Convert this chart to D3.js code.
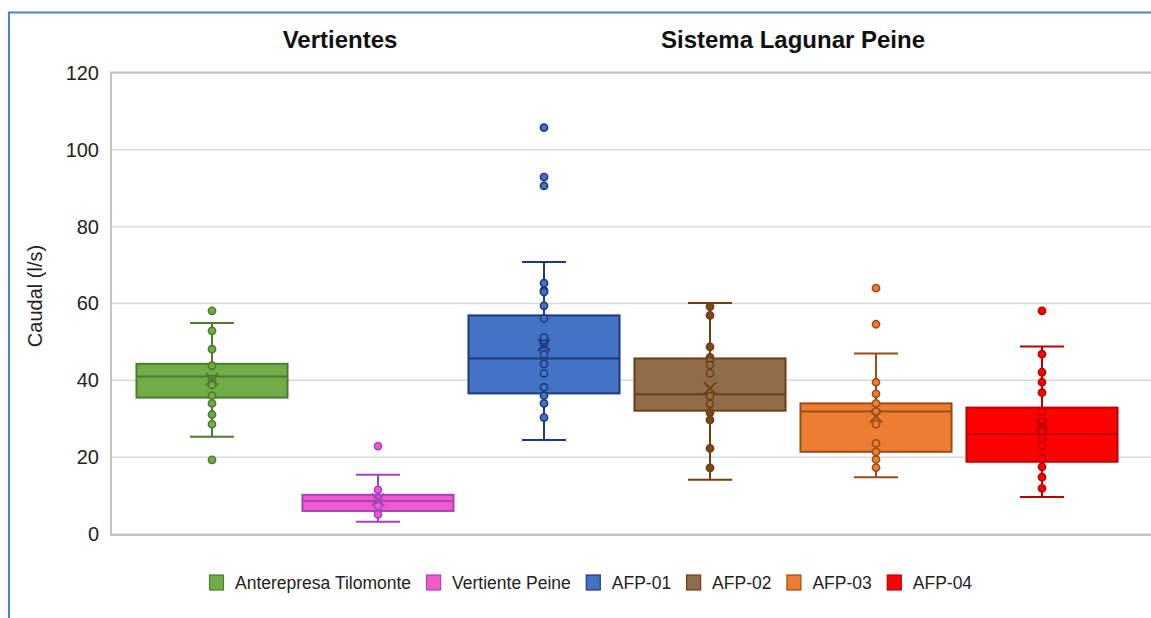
<!DOCTYPE html>
<html><head><meta charset="utf-8">
<script src="https://cdn.jsdelivr.net/npm/d3@7"></script>
<style>
html,body{margin:0;padding:0;background:#fff;}
svg{display:block;font-family:"Liberation Sans",Arial,sans-serif;}
</style></head>
<body><svg id="c" width="1151" height="618"></svg>
<script>
// ---- data ----
const categories = ["Anterepresa Tilomonte","Vertiente Peine","AFP-01","AFP-02","AFP-03","AFP-04"];
const groups = ["Vertientes","Sistema Lagunar Peine"];
const q1Values     = [35.5, 6.0, 36.6, 32.1, 21.4, 18.8];
const medianValues = [41.0, 8.6, 45.7, 36.4, 31.9, 26.0];
const q3Values     = [44.3, 10.2, 56.9, 45.7, 34.0, 32.9];
const whiskerLow   = [25.3, 3.2, 24.5, 14.1, 14.8, 9.6];
const whiskerHigh  = [54.9, 15.4, 70.8, 60.1, 47.0, 48.8];
const meanValues   = [40.3, 9.0, 49.2, 37.9, 30.6, 28.4];
const pointsTilomonte = [58.1, 52.9, 48.1, 43.8, 40.3, 38.8, 36.0, 34.0, 31.1, 28.6, 19.3];
const pointsPeine     = [22.9, 11.5, 9.3, 7.3, 5.1];
const pointsAFP01     = [105.8, 92.9, 90.6, 65.3, 63.4, 63.0, 59.4, 56.1, 51.2, 49.5, 46.8, 44.3, 41.8, 38.2, 36.0, 34.0, 30.3];
const pointsAFP02     = [59.2, 56.9, 48.7, 46.0, 45.1, 44.0, 41.8, 35.9, 33.9, 31.6, 29.7, 22.3, 17.2];
const pointsAFP03     = [64.0, 54.6, 39.5, 36.5, 34.0, 31.9, 28.6, 23.6, 21.4, 19.4, 17.3];
const pointsAFP04     = [58.1, 46.8, 42.1, 39.5, 36.8, 31.9, 29.3, 28.0, 26.6, 24.9, 22.9, 19.7, 17.5, 14.8, 11.9];
const yTicks = [0, 20, 40, 60, 80, 100, 120];
const fillColors   = ["#70ad47","#f359cc","#4472c4","#8f6d4a","#ed7d31","#ff0000"];
const strokeColors = ["#4f7a2f","#a044bf","#1c3a80","#6e3f12","#9a4d17","#c00000"];
const pointFills   = ["#70ad47","#f359cc","#4472c4","#7a4a1c","#ed7d31","#ff0000"];

const allPoints = [pointsTilomonte, pointsPeine, pointsAFP01, pointsAFP02, pointsAFP03, pointsAFP04];
const boxes = categories.map((c,i)=>({cat:c,i,q1:q1Values[i],med:medianValues[i],q3:q3Values[i],lo:whiskerLow[i],hi:whiskerHigh[i],mean:meanValues[i],pts:allPoints[i]}));

// ---- layout ----
const svg = d3.select("#c");
const plot = {left:111, top:73, bottom:534, right:1160};
const y = d3.scaleLinear().domain([0,120]).range([plot.bottom, plot.top]);
const x = d3.scaleBand().domain(categories).range([129,1125]).paddingInner(0.09).paddingOuter(0.045);
const bw = x.bandwidth();
const capW = 44;

// frame
svg.append("line").attr("x1",8).attr("x2",1151).attr("y1",12.5).attr("y2",12.5).attr("stroke","#4f81c7").attr("stroke-width",2);
svg.append("line").attr("x1",9).attr("x2",9).attr("y1",12).attr("y2",618).attr("stroke","#4f81c7").attr("stroke-width",2);

// gridlines
svg.append("g").selectAll("line").data(yTicks).join("line")
  .attr("x1",plot.left).attr("x2",plot.right)
  .attr("y1",d=>y(d)).attr("y2",d=>y(d))
  .attr("stroke","#d9d9d9").attr("stroke-width",1.5);
// plot border
svg.append("rect").attr("x",plot.left).attr("y",plot.top-0.5).attr("width",plot.right-plot.left).attr("height",plot.bottom-plot.top+1.5)
  .attr("fill","none").attr("stroke","#c4c4c4").attr("stroke-width",2);

// y axis
const yAxis = d3.axisLeft(y).tickValues(yTicks).tickSize(0).tickPadding(12);
const ga = svg.append("g").attr("transform",`translate(${plot.left},0)`).call(yAxis);
ga.select(".domain").remove();
ga.selectAll("text").attr("font-size",20).attr("fill","#222").attr("font-family","Liberation Sans, Arial, sans-serif");

svg.append("text").attr("transform","translate(42,296) rotate(-90)")
  .attr("text-anchor","middle").attr("font-size",20).attr("fill","#222").text("Caudal (l/s)");

// group headers
svg.append("text").attr("x",340).attr("y",48).attr("text-anchor","middle").attr("font-size",24).attr("font-weight","bold").attr("fill","#111").text(groups[0]);
svg.append("text").attr("x",(x(categories[2])+x(categories[5])+bw)/2).attr("y",48).attr("text-anchor","middle").attr("font-size",24).attr("font-weight","bold").attr("fill","#111").text(groups[1]);

// boxes
const g = svg.append("g").selectAll("g").data(boxes).join("g");
g.each(function(d){
  const s = d3.select(this);
  const cx = x(d.cat) + bw/2;
  const sc = strokeColors[d.i];
  s.append("line").attr("x1",cx).attr("x2",cx).attr("y1",y(d.hi)).attr("y2",y(d.q3)).attr("stroke",sc).attr("stroke-width",2);
  s.append("line").attr("x1",cx).attr("x2",cx).attr("y1",y(d.q1)).attr("y2",y(d.lo)).attr("stroke",sc).attr("stroke-width",2);
  s.append("line").attr("x1",cx-capW/2).attr("x2",cx+capW/2).attr("y1",y(d.hi)).attr("y2",y(d.hi)).attr("stroke",sc).attr("stroke-width",2);
  s.append("line").attr("x1",cx-capW/2).attr("x2",cx+capW/2).attr("y1",y(d.lo)).attr("y2",y(d.lo)).attr("stroke",sc).attr("stroke-width",2);
  s.append("rect").attr("x",x(d.cat)).attr("y",y(d.q3)).attr("width",bw).attr("height",y(d.q1)-y(d.q3))
    .attr("fill",fillColors[d.i]).attr("stroke",sc).attr("stroke-width",2);
  s.append("line").attr("x1",x(d.cat)).attr("x2",x(d.cat)+bw).attr("y1",y(d.med)).attr("y2",y(d.med)).attr("stroke",sc).attr("stroke-width",2);
  s.selectAll("circle").data(d.pts).join("circle")
    .attr("cx",cx).attr("cy",v=>y(v)).attr("r",3.6)
    .attr("fill",v=> (v>d.q1 && v<d.q3) ? fillColors[d.i] : pointFills[d.i])
    .attr("stroke",sc).attr("stroke-width",1.6);
  const m = y(d.mean), h = 6;
  s.append("path").attr("d",`M${cx-h},${m-h}L${cx+h},${m+h}M${cx-h},${m+h}L${cx+h},${m-h}`)
    .attr("stroke",sc).attr("stroke-width",2).attr("fill","none");
});

// legend
const lg = svg.append("g").attr("transform","translate(209,582)");
let lx = 0;
categories.forEach((c,i)=>{
  const it = lg.append("g").attr("transform",`translate(${lx},0)`);
  it.append("rect").attr("x",0.5).attr("y",-7).attr("width",14).attr("height",15).attr("fill",fillColors[i]).attr("stroke",strokeColors[i]).attr("stroke-width",1.2);
  const t = it.append("text").attr("x",26).attr("y",6.5).attr("font-size",17.5).attr("fill","#222").text(c);
  lx += 26 + t.node().getComputedTextLength() + 15;
});
</script></body></html>
